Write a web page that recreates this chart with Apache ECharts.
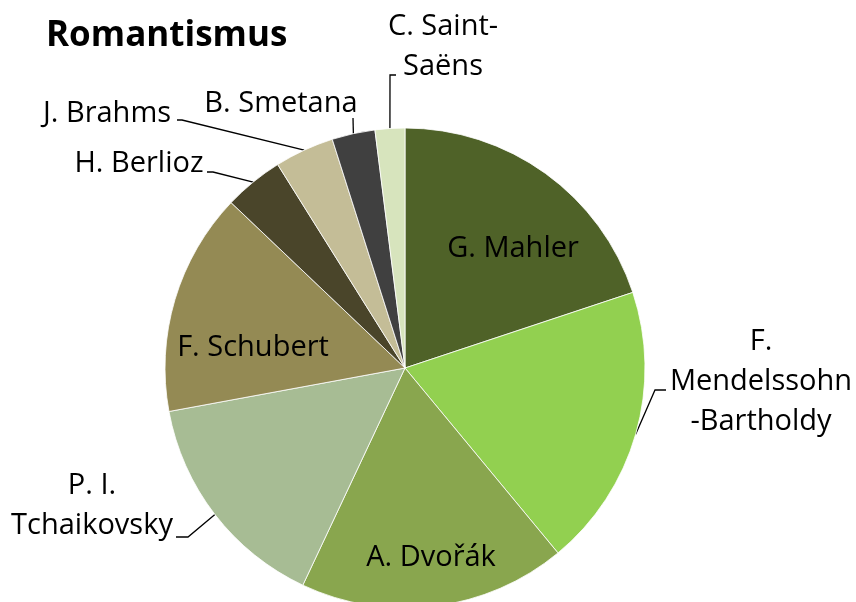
<!DOCTYPE html>
<html><head><meta charset="utf-8">
<script src="https://cdn.jsdelivr.net/npm/echarts@6/dist/echarts.min.js"></script>
<style>html,body{margin:0;padding:0;background:#fff}#c{width:856px;height:602px}</style>
</head><body><div id="c"></div>
<script>
const titleText = 'Romantismus';
const composers = ['G. Mahler', 'F.\nMendelssohn\n-Bartholdy', 'A. Dvořák', 'P. I.\nTchaikovsky', 'F. Schubert', 'H. Berlioz', 'J. Brahms', 'B. Smetana', 'C. Saint-\nSaëns'];
const shares = [19.9, 19.1, 18.0, 15.1, 15.0, 4.0, 4.0, 2.9, 2.0];
const sliceColors = ['#4F6228', '#92D050', '#89A64E', '#A7BC94', '#948A54', '#4A452A', '#C4BD97', '#404040', '#D7E4BD'];

// label placement (layout only)
const labelPlaces = [
  { x: 513, y: 249 },
  { x: 761, y: 382, line: [[655, 390], [666, 390]] },
  { x: 431, y: 558 },
  { x: 92, y: 506, line: [[188, 537], [176, 537]] },
  { x: 253, y: 348 },
  { x: 139, y: 164, line: [[213, 172], [207, 172]] },
  { x: 107, y: 114, line: [[182, 120], [177, 120]] },
  { x: 281, y: 104, line: [[353, 118], [353, 118]] },
  { x: 443, y: 47, line: [[390, 75], [396, 75]] }
];

const chart = echarts.init(document.getElementById('c'), null, { renderer: 'canvas' });
const data = composers.map((n, i) => ({
  name: n,
  value: shares[i],
  itemStyle: { color: sliceColors[i] },
  labelLine: { show: !!labelPlaces[i].line }
}));

chart.setOption({
  animation: false,
  title: {
    text: titleText, left: 41, top: 14,
    textStyle: { fontFamily: 'Open Sans', fontWeight: 'bold', fontSize: 35, color: '#000' }
  },
  series: [{
    type: 'pie',
    center: [405, 368],
    radius: [0, 240],
    startAngle: 90,
    clockwise: true,
    avoidLabelOverlap: false,
    data: data,
    itemStyle: { borderColor: '#fff', borderWidth: 0.8 },
    label: {
      show: true, position: 'outside', formatter: '{b}',
      fontFamily: 'Open Sans', fontSize: 29, lineHeight: 40, color: '#000'
    },
    labelLine: { show: true, length: 10, length2: 10, lineStyle: { color: '#000', width: 1.3 } },
    labelLayout: function (p) {
      const pl = labelPlaces[p.dataIndex];
      const out = { x: pl.x, y: pl.y, align: 'center', verticalAlign: 'middle' };
      if (pl.line && p.labelLinePoints) {
        out.labelLinePoints = [p.labelLinePoints[0], pl.line[0], pl.line[1]];
      }
      return out;
    }
  }]
});
</script></body></html>
